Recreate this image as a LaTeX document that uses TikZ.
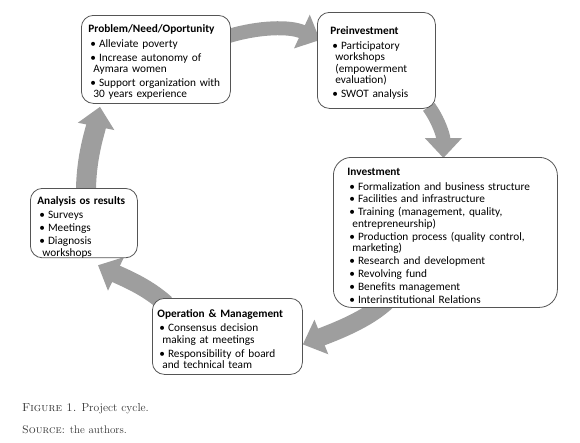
\documentclass[tikz,border=0pt]{standalone}
\usepackage{fontspec}
\setsansfont{Carlito}
\usetikzlibrary{arrows.meta,calc,backgrounds}
\definecolor{arrgray}{RGB}{158,158,158}
\definecolor{boxline}{RGB}{85,85,85}
\newcommand\bul{\hspace*{2pt}\textbullet\hspace{3pt}}
\newcommand\cont{\hspace*{5pt}}
\newcommand\tstrut{\rule{0pt}{13.5pt}}
\begin{document}
\begin{tikzpicture}[x=1pt,y=-1pt,
  box/.style={draw=boxline, line width=0.8pt, rounded corners=12pt, fill=white,
    anchor=north west, align=left, inner ysep=0pt,
    font=\sffamily\fontsize{11.3}{11.4}\selectfont},
  cyc/.style={draw=arrgray, -{Triangle[length=20pt,width=36pt]}},
  captext/.style={anchor=west, inner sep=0pt, text=black!80}]
\useasboundingbox (0,0) rectangle (580,442);

\node[box, text width=135pt, inner xsep=7pt, minimum height=88pt] (prob) at (81,15)
 {\tstrut\textbf{Problem/Need/Oportunity}\\[3pt]
  \bul Alleviate poverty\\[2.5pt]
  \bul Increase autonomy of\\
  \cont Aymara women\\[2.5pt]
  \bul Support organization with\\
  \cont 30 years experience};

\node[box, text width=92pt, inner xsep=13pt, minimum height=96pt] (pre) at (317,12)
 {\tstrut\textbf{Preinvestment}\\[3pt]
  \bul Participatory\\
  \cont workshops\\
  \cont (empowerment\\
  \cont evaluation)\\[2.5pt]
  \bul SWOT analysis};

\node[box, text width=196pt, inner xsep=14pt, minimum height=150pt, rounded corners=18pt] (inv) at (333,157)
 {\tstrut\textbf{Investment}\\[3.5pt]
  \bul Formalization and business structure\\[1.5pt]
  \bul Facilities and infrastructure\\[1.5pt]
  \bul Training (management, quality,\\
  \cont entrepreneurship)\\[1.5pt]
  \bul Production process (quality control,\\
  \cont marketing)\\[1.5pt]
  \bul Research and development\\[1.5pt]
  \bul Revolving fund\\[1.5pt]
  \bul Benefits management\\[1.5pt]
  \bul Interinstitutional Relations};

\node[box, text width=93pt, inner xsep=7pt, minimum height=67pt] (ana) at (30,188)
 {\rule{0pt}{16pt}\textbf{Analysis os results}\\[3pt]
  \bul Surveys\\[1.5pt]
  \bul Meetings\\[1.5pt]
  \bul Diagnosis\\
  \cont workshops};

\node[box, text width=140pt, inner xsep=5pt, minimum height=76pt] (op) at (152,298)
 {\tstrut\textbf{Operation \& Management}\\[3pt]
  \bul Consensus decision\\
  \cont making at meetings\\[2.5pt]
  \bul Responsibility of board\\
  \cont and technical team};

\begin{scope}[on background layer]
\coordinate (a1s) at ($(prob.north east)+(-2,21)$);
\coordinate (a1e) at ($(pre.north west)+(3,28)$);
\coordinate (a2s) at ($(pre.south east)+(-7,-2)$);
\coordinate (a2e) at ($(inv.north)+(-2,1)$);
\coordinate (a3s) at ($(inv.south west)+(55,-8)$);
\coordinate (a3e) at ($(op.east)+(0,8)$);
\coordinate (a4s) at ($(op.north west)+(14,6)$);
\coordinate (a4e) at ($(ana.south west)+(68,7)$);
\coordinate (a5s) at ($(ana.north west)+(56,4)$);
\coordinate (a5e) at ($(prob.south west)+(19,3)$);
\draw[cyc, line width=14pt] (a1s) .. controls +(30,-9) and +(-30,-14) .. (a1e);
\draw[cyc, line width=14pt] (a2s) .. controls +(10,14) and +(0,-22) .. (a2e);
\draw[cyc, line width=18pt] (a3s) .. controls +(-20,20) and +(30,-12) .. (a3e);
\draw[cyc, line width=18pt] (a4s) .. controls +(-20,-18) and +(25,12) .. (a4e);
\draw[cyc, line width=20pt] (a5s) .. controls +(0,-35) and +(-5,25) .. (a5e);
\end{scope}

\node[captext, font=\fontsize{11.6}{12}\selectfont] (fig) at (22,409) {\textsc{Figure 1.} Project cycle.};
\node[captext, font=\fontsize{11}{11}\selectfont] (src) at (22,430) {\textsc{Source:} the authors.};
\end{tikzpicture}
\end{document}
